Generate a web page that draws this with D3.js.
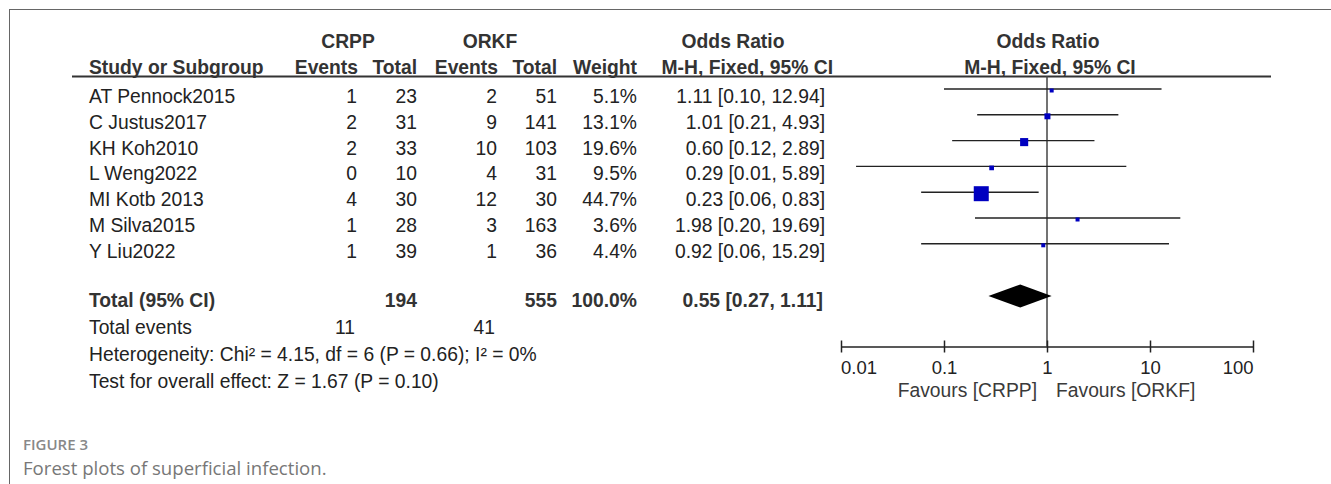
<!DOCTYPE html>
<html lang="en">
<head>
    <title>Forest plot - superficial infection</title>
    <script src='https://d3js.org/d3.v7.min.js'></script>
    <style>
        body { margin: 0; background: #fff; }
        text { font-family: "Liberation Sans", Arial, sans-serif; }
    </style>
</head>
<body>
<script>
    // Data
    const studies    = ["AT Pennock2015", "C Justus2017", "KH Koh2010", "L Weng2022", "MI Kotb 2013", "M Silva2015", "Y Liu2022"];
    const crppEvents = [1, 2, 2, 0, 4, 1, 1];
    const crppTotal  = [23, 31, 33, 10, 30, 28, 39];
    const orkfEvents = [2, 9, 10, 4, 12, 3, 1];
    const orkfTotal  = [51, 141, 103, 31, 30, 163, 36];
    const weights    = [5.1, 13.1, 19.6, 9.5, 44.7, 3.6, 4.4];
    const oddsRatio  = [1.11, 1.01, 0.60, 0.29, 0.23, 1.98, 0.92];
    const ciLow      = [0.10, 0.21, 0.12, 0.014, 0.06, 0.20, 0.06];
    const ciHigh     = [12.94, 4.93, 2.89, 5.89, 0.83, 19.69, 15.29];

    // pooled result
    const totalCrpp   = 194;
    const totalOrkf   = 555;
    const eventsCrpp  = 11;
    const eventsOrkf  = 41;
    const pooled      = [0.55, 0.27, 1.11];   // OR, low, high
    const statLines   = ["Heterogeneity: Chi\u00b2 = 4.15, df = 6 (P = 0.66); I\u00b2 = 0%",
                         "Test for overall effect: Z = 1.67 (P = 0.10)"];
    const tickValues  = [0.01, 0.1, 1, 10, 100];

    const width  = 1331;
    const height = 484;
    const fs     = 19.3;   // main font size
    const txt    = "#222";

    const svg = d3.select("body")
                  .append("svg")
                  .attr("width", width)
                  .attr("height", height);

    // frame (top + left border)
    svg.append("line").attr("x1", 9).attr("x2", width).attr("y1", 9.5).attr("y2", 9.5)
       .attr("stroke", "#666").attr("stroke-width", 1);
    svg.append("line").attr("x1", 9.5).attr("x2", 9.5).attr("y1", 9).attr("y2", height)
       .attr("stroke", "#666").attr("stroke-width", 1);

    // column right edges
    const col = { study: 89, ce: 357, ct: 417, oe: 497, ot: 557, w: 637, or: 825 };

    // row positions
    const y = d3.scaleLinear().domain([0, 1]).range([89, 114.8]);   // CI line y for row i

    // forest x scale
    const x = d3.scaleLog().domain([0.01, 100]).range([841, 1253]);
    const size = d3.scalePow().exponent(0.75).domain([0, 44.7]).range([0, 15]);

    function addText(xp, yp, s, anchor, bold, color, fsize) {
        return svg.append("text")
            .attr("x", xp).attr("y", yp)
            .attr("text-anchor", anchor || "start")
            .attr("font-weight", bold ? "bold" : "normal")
            .attr("font-size", fsize || fs)
            .attr("fill", color || txt)
            .text(s);
    }

    // Header
    const hd = "#333";
    addText(348, 48, "CRPP", "middle", true, hd);
    addText(490, 48, "ORKF", "middle", true, hd);
    addText(733, 48, "Odds Ratio", "middle", true, hd);
    addText(1048, 48, "Odds Ratio", "middle", true, hd);

    addText(col.study, 74, "Study or Subgroup", "start", true, hd);
    addText(358, 74, "Events", "end", true, hd);
    addText(417, 74, "Total", "end", true, hd);
    addText(498, 74, "Events", "end", true, hd);
    addText(557, 74, "Total", "end", true, hd);
    addText(637, 74, "Weight", "end", true, hd);
    addText(833, 74, "M-H, Fixed, 95% CI", "end", true, hd);
    addText(1050, 74, "M-H, Fixed, 95% CI", "middle", true, hd);

    // header rule
    svg.append("line").attr("x1", 72).attr("x2", 1271).attr("y1", 76.5).attr("y2", 76.5)
       .attr("stroke", "#333").attr("stroke-width", 2);

    // study rows (text)
    studies.forEach((s, i) => {
        const by = y(i) + 14;
        addText(col.study, by, s, "start");
        addText(col.ce, by, crppEvents[i], "end");
        addText(col.ct, by, crppTotal[i], "end");
        addText(col.oe, by, orkfEvents[i], "end");
        addText(col.ot, by, orkfTotal[i], "end");
        addText(col.w, by, weights[i].toFixed(1) + "%", "end");
        addText(col.or, by, oddsRatio[i].toFixed(2) + " [" + ciLow[i].toFixed(2) + ", " + ciHigh[i].toFixed(2) + "]", "end");
    });

    // Total rows
    const totY = 306.7;
    addText(col.study, totY, "Total (95% CI)", "start", true, hd);
    addText(col.ct, totY, totalCrpp, "end", true, hd);
    addText(col.ot, totY, totalOrkf, "end", true, hd);
    addText(col.w, totY, "100.0%", "end", true, hd);
    addText(col.or - 2, totY, pooled[0].toFixed(2) + " [" + pooled[1].toFixed(2) + ", " + pooled[2].toFixed(2) + "]", "end", true, hd);

    addText(col.study, 334, "Total events", "start");
    addText(355, 334, eventsCrpp, "end");
    addText(495, 334, eventsOrkf, "end");
    addText(col.study, 361, statLines[0], "start");
    addText(col.study, 388, statLines[1], "start");

    // Forest plot
    const axisY = 346.5;

    // no-effect line
    svg.append("line")
       .attr("x1", x(1)).attr("x2", x(1))
       .attr("y1", 76).attr("y2", axisY)
       .attr("stroke", "#444").attr("stroke-width", 1.5);

    // CI lines
    svg.selectAll(".ci")
       .data(studies)
       .enter()
       .append("line")
       .attr("class", "ci")
       .attr("x1", (d, i) => x(ciLow[i]))
       .attr("x2", (d, i) => x(ciHigh[i]))
       .attr("y1", (d, i) => y(i))
       .attr("y2", (d, i) => y(i))
       .attr("stroke", "#222")
       .attr("stroke-width", 1.4);

    // weight squares
    const side = i => Math.max(4, size(weights[i]));
    svg.selectAll(".sq")
       .data(studies)
       .enter()
       .append("rect")
       .attr("class", "sq")
       .attr("width", (d, i) => side(i))
       .attr("height", (d, i) => side(i))
       .attr("x", (d, i) => x(oddsRatio[i]) - side(i) / 2)
       .attr("y", (d, i) => y(i) + 1.5 - side(i) / 2)
       .attr("fill", "#0000c0");

    // pooled diamond
    const dy = 296;
    svg.append("path")
       .attr("d", "M" + x(pooled[1]) + "," + dy +
                  "L" + x(pooled[0]) + "," + (dy - 11.5) +
                  "L" + x(pooled[2]) + "," + dy +
                  "L" + x(pooled[0]) + "," + (dy + 11.5) + "Z")
       .attr("fill", "#000");

    // axis
    const axis = svg.append("g")
       .attr("transform", "translate(0," + axisY + ")")
       .call(d3.axisBottom(x).tickValues(tickValues).tickSizeOuter(0).tickSizeInner(6).tickFormat(d => String(d)));
    axis.select(".domain").attr("stroke", "#222").attr("stroke-width", 1.5);
    axis.selectAll(".tick line").attr("y1", -6).attr("y2", 6).attr("stroke", "#222").attr("stroke-width", 1.5);
    axis.selectAll(".tick text")
        .attr("y", 27.5).attr("dy", null)
        .attr("font-size", 18.5)
        .attr("fill", txt)
        .attr("text-anchor", (d, i) => i === 0 ? "start" : (i === tickValues.length - 1 ? "end" : "middle"))
        .attr("dx", (d, i) => i === 0 ? -0.5 : 0);

    addText(1037, 397, "Favours [CRPP]", "end", false, "#3a3a3a");
    addText(1056, 397, "Favours [ORKF]", "start", false, "#3a3a3a");

    // caption (style so it wins over the css font rule)
    svg.append("text").attr("x", 23).attr("y", 449.5)
       .style("font-family", "'Open Sans', sans-serif").attr("font-weight", 600)
       .attr("font-size", 15).attr("fill", "#888")
       .text("FIGURE 3");
    svg.append("text").attr("x", 23).attr("y", 475)
       .style("font-family", "'Open Sans', sans-serif")
       .attr("font-size", 18.6).attr("fill", "#777")
       .text("Forest plots of superficial infection.");
</script>
</body>
</html>
